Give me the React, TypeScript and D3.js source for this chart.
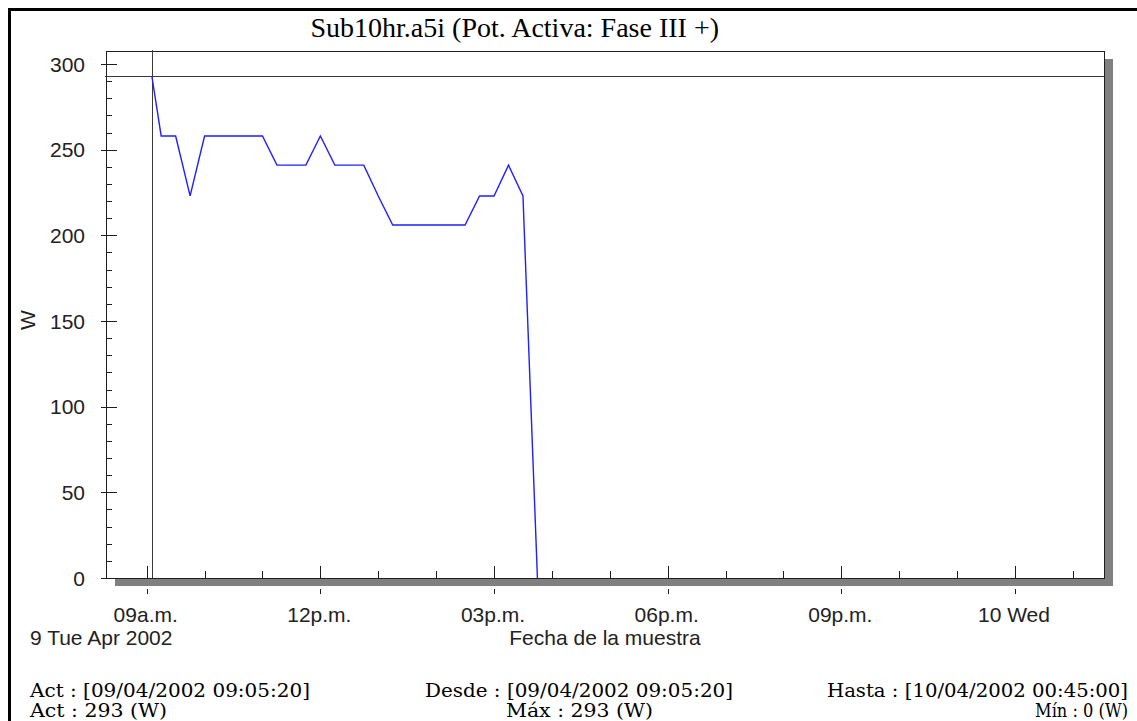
import * as d3 from 'd3'

// samples (local time) and active power in W
const TIMES = [
  '2002-04-09 09:05:20', '2002-04-09 09:15:00', '2002-04-09 09:30:00', '2002-04-09 09:45:00',
  '2002-04-09 10:00:00', '2002-04-09 10:15:00', '2002-04-09 10:30:00', '2002-04-09 10:45:00',
  '2002-04-09 11:00:00', '2002-04-09 11:15:00', '2002-04-09 11:30:00', '2002-04-09 11:45:00',
  '2002-04-09 12:00:00', '2002-04-09 12:15:00', '2002-04-09 12:30:00', '2002-04-09 12:45:00',
  '2002-04-09 13:00:00', '2002-04-09 13:15:00', '2002-04-09 13:30:00', '2002-04-09 13:45:00',
  '2002-04-09 14:00:00', '2002-04-09 14:15:00', '2002-04-09 14:30:00', '2002-04-09 14:45:00',
  '2002-04-09 15:00:00', '2002-04-09 15:15:00', '2002-04-09 15:30:00', '2002-04-09 15:45:00',
]
const VALUES = [
  293, 258, 258, 223,
  258, 258, 258, 258,
  258, 241, 241, 241,
  258, 241, 241, 241,
  223, 206, 206, 206,
  206, 206, 206, 223,
  223, 241, 223, 0,
]

const X_DOMAIN = ['2002-04-09 08:17:49', '2002-04-10 01:32:15']
const Y_DOMAIN = [0, 307.6]
const Y_MAJOR = [0, 50, 100, 150, 200, 250, 300]
const CURSOR_TIME = '2002-04-09 09:05:20'
const CURSOR_VALUE = 293

const TITLE = 'Sub10hr.a5i (Pot. Activa: Fase III +)'
const Y_LABEL = 'W'
const X_LABEL = 'Fecha de la muestra'
const DATE_LABEL = '9 Tue Apr 2002'
const INFO_LEFT = ['Act : [09/04/2002 09:05:20]', 'Act : 293 (W)']
const INFO_MID = ['Desde : [09/04/2002 09:05:20]', 'Máx : 293 (W)']
const INFO_RIGHT = ['Hasta : [10/04/2002 00:45:00]', 'Mín : 0 (W)']

const W = 1137
const H = 721
const PLOT = { left: 106, top: 51, right: 1104, bottom: 578 }
const SANS = 'Liberation Sans, Arial, sans-serif'
const SERIF_T = 'Liberation Serif, Times New Roman, serif'
const SERIF_I = 'DejaVu Serif, serif'
const AXIS = '#1e1e1e'

const parse = d3.timeParse('%Y-%m-%d %H:%M:%S')

function tickLabel(d: Date) {
  if (d.getHours() === 0) return d3.timeFormat('%-d %a')(d)
  return d3.timeFormat('%I')(d) + (d.getHours() < 12 ? 'a.m.' : 'p.m.')
}

export default function App() {
  const data = TIMES.map((t, i) => ({ t: parse(t)!, v: VALUES[i] }))

  const x = d3.scaleTime()
    .domain(X_DOMAIN.map(s => parse(s)!))
    .range([PLOT.left, PLOT.right])
  const y = d3.scaleLinear().domain(Y_DOMAIN).range([PLOT.bottom, PLOT.top])

  const line = d3.line<{ t: Date; v: number }>()
    .x(d => x(d.t))
    .y(d => y(d.v))

  const hours = x.ticks(d3.timeHour.every(1)!)
  const majors = hours.filter(d => d.getHours() % 3 === 0)
  const minors = hours.filter(d => d.getHours() % 3 !== 0)
  const yMinor = d3.range(0, 301, 10).filter(v => v % 50 !== 0)

  const cx = x(parse(CURSOR_TIME)!)
  const cy = y(CURSOR_VALUE)

  return (
    <svg width={W} height={H} style={{ position: 'absolute', left: 0, top: 0, background: '#fff' }}>
      {/* outer frame, right/bottom edges fall outside the window */}
      <rect x={9.5} y={9.5} width={1300} height={900} fill="none" stroke="#000" strokeWidth={3} />

      <text x={310.5} y={37} fontFamily={SERIF_T} fontSize={28} fill="#000">{TITLE}</text>

      {/* shadow + plot box */}
      <rect x={PLOT.left + 9} y={PLOT.top + 8} width={PLOT.right - PLOT.left} height={PLOT.bottom - PLOT.top}
        fill="#808080" />
      <rect x={PLOT.left + 0.5} y={PLOT.top + 0.5} width={PLOT.right - PLOT.left} height={PLOT.bottom - PLOT.top}
        fill="#fff" stroke={AXIS} strokeWidth={1} />

      {/* cursor cross */}
      <line x1={PLOT.left - 1} x2={PLOT.right} y1={Math.round(cy) + 0.5} y2={Math.round(cy) + 0.5} stroke="#3a3a3a" />
      <line x1={Math.round(cx) + 0.5} x2={Math.round(cx) + 0.5} y1={PLOT.top - 1} y2={PLOT.bottom} stroke="#3a3a3a" />

      {/* y axis ticks */}
      {Y_MAJOR.map(v => (
        <g key={v}>
          <line x1={PLOT.left - 5} x2={PLOT.left + 11} y1={Math.round(y(v)) + 0.5} y2={Math.round(y(v)) + 0.5} stroke={AXIS} />
          <text x={85} y={y(v) + 7.5} textAnchor="end" fontFamily={SANS} fontSize={21} fill="#222">{v}</text>
        </g>
      ))}
      {yMinor.map(v => (
        <line key={v} x1={PLOT.left} x2={PLOT.left + 6} y1={Math.round(y(v)) + 0.5} y2={Math.round(y(v)) + 0.5} stroke={AXIS} />
      ))}

      {/* x axis ticks */}
      {majors.map(d => (
        <g key={+d}>
          <line x1={Math.round(x(d)) + 0.5} x2={Math.round(x(d)) + 0.5} y1={PLOT.bottom - 12} y2={PLOT.bottom} stroke={AXIS} />
          <line x1={Math.round(x(d)) + 0.5} x2={Math.round(x(d)) + 0.5} y1={PLOT.bottom + 11} y2={PLOT.bottom + 16} stroke={AXIS} />
          <text x={x(d) - 1} y={622} textAnchor="middle" fontFamily={SANS} fontSize={21} fill="#222">{tickLabel(d)}</text>
        </g>
      ))}
      {minors.map(d => (
        <line key={+d} x1={Math.round(x(d)) + 0.5} x2={Math.round(x(d)) + 0.5} y1={PLOT.bottom - 7} y2={PLOT.bottom} stroke={AXIS} />
      ))}

      {/* series */}
      <path d={line(data) ?? ''} fill="none" stroke="#1f1fff" strokeWidth={1.4} />

      {/* axis titles */}
      <text transform="translate(35,320) rotate(-90)" textAnchor="middle" fontFamily={SANS} fontSize={21} fill="#222">{Y_LABEL}</text>
      <text x={30} y={645} fontFamily={SANS} fontSize={21} fill="#222">{DATE_LABEL}</text>
      <text x={605} y={645} textAnchor="middle" fontFamily={SANS} fontSize={21} fill="#222">{X_LABEL}</text>

      {/* info lines */}
      <text x={30} y={697} fontFamily={SERIF_I} fontSize={18} textLength={280} lengthAdjust="spacingAndGlyphs">{INFO_LEFT[0]}</text>
      <text x={30} y={717} fontFamily={SERIF_I} fontSize={18} textLength={137} lengthAdjust="spacingAndGlyphs">{INFO_LEFT[1]}</text>
      <text x={425} y={697} fontFamily={SERIF_I} fontSize={18} textLength={308} lengthAdjust="spacingAndGlyphs">{INFO_MID[0]}</text>
      <text x={506} y={717} fontFamily={SERIF_I} fontSize={18} textLength={147} lengthAdjust="spacingAndGlyphs">{INFO_MID[1]}</text>
      <text x={827} y={697} fontFamily={SERIF_I} fontSize={18} textLength={301} lengthAdjust="spacingAndGlyphs">{INFO_RIGHT[0]}</text>
      <text x={1035} y={717} fontFamily={SERIF_I} fontSize={18} textLength={93} lengthAdjust="spacingAndGlyphs">{INFO_RIGHT[1]}</text>
    </svg>
  )
}
